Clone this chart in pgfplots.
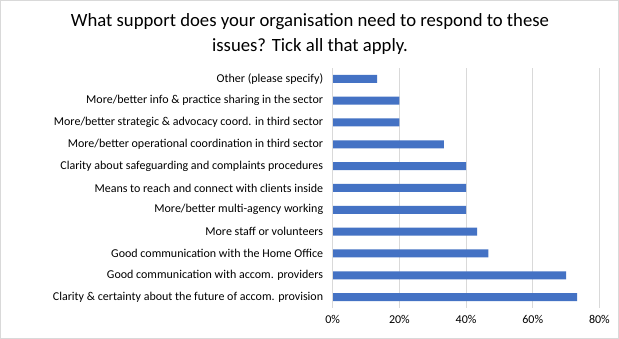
\documentclass[border=0pt]{standalone}
\usepackage{pgfplots}
\pgfplotsset{compat=1.18}
\usepackage{fontspec}
\setmainfont{Carlito}
\definecolor{barblue}{HTML}{4472C4}
\definecolor{gridgray}{HTML}{D9D9D9}
\definecolor{txt}{HTML}{000000}
\begin{document}
\begin{tikzpicture}
\path[draw=gridgray, fill=white, line width=0.75pt] (-332.2pt,-30.5pt) rectangle (285.8pt,307.5pt);
\begin{axis}[
  at={(0,0)}, anchor=south west,
  scale only axis, width=266.6pt, height=240pt,
  xbar, bar width=8pt,
  xmin=0, xmax=80, ymin=-0.5, ymax=10.5,
  xtick={0,20,40,60,80},
  xticklabel={\pgfmathprintnumber{\tick}\%},
  /pgf/number format/assume math mode=true,
  ytick={0,...,10},
  yticklabels={Clarity \& certainty about the future of accom. provision,
    Good communication with accom. providers,
    Good communication with the Home Office,
    More staff or volunteers,
    More/better multi-agency working,
    Means to reach and connect with clients inside,
    Clarity about safeguarding and complaints procedures,
    More/better operational coordination in third sector,
    More/better strategic \& advocacy coord. in third sector,
    More/better info \& practice sharing in the sector,
    Other (please specify)},
  xmajorgrids, grid style={gridgray, line width=0.75pt},
  axis line style={draw=none},
  axis x line*=bottom, axis y line*=left,
  major tick length=0pt,
  tick label style={font=\fontsize{12}{14}\selectfont, text=txt},
  yticklabel style={xshift=-6pt},
  xticklabel style={yshift=-4pt},
  clip=false,
]
\addplot[fill=barblue, draw=none] coordinates {
(73.33,0) (70,1) (46.67,2) (43.33,3) (40,4) (40,5) (40,6) (33.33,7) (20,8) (20,9) (13.33,10)};
\draw[gridgray, line width=0.75pt] (axis cs:0,-0.5) -- (axis cs:0,10.5);
\end{axis}
\node[align=center, font=\fontsize{18.7}{25}\selectfont, text=txt] at (-22.7pt,273.5pt) {What support does your organisation need to respond to these\\issues? Tick all that apply.};
\end{tikzpicture}
\end{document}
